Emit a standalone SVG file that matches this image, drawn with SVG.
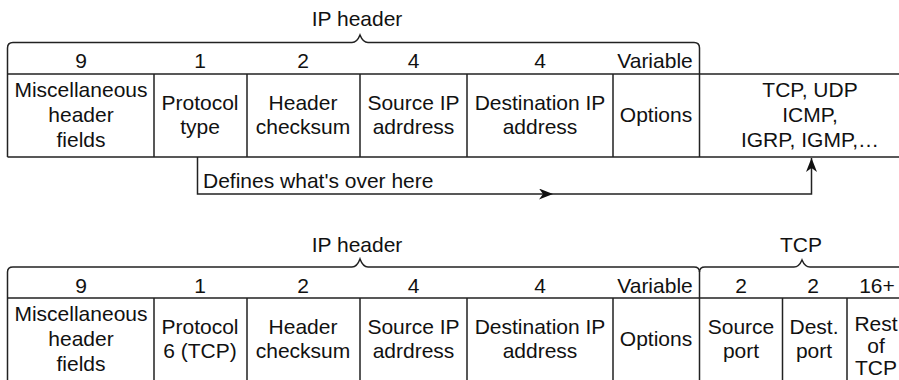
<svg xmlns="http://www.w3.org/2000/svg" width="899" height="380" viewBox="0 0 899 380">
<style>
text{font-family:"Liberation Sans",Arial,Helvetica,sans-serif;font-size:21px;fill:#111;text-anchor:middle}
.ln{fill:none;stroke:#222;stroke-width:1.5}
.l{text-anchor:start}
</style>
<defs>
<marker id="ah" markerUnits="userSpaceOnUse" markerWidth="14" markerHeight="11" viewBox="0 0 14 11" refX="14" refY="5.5" orient="auto">
<path d="M0 0L14 5.5L0 11L4 5.5Z" fill="#111"/>
</marker>
</defs>
<rect width="899" height="380" fill="#fff"/>

<g id="top-diagram">
<g id="top-ip-brace">
<path class="ln" d="M7.5 74V48Q7.5 42.5 13 42.5H352Q357 42.5 360 35Q363 42.5 368 42.5H694Q699.5 42.5 699.5 48V74"/>
<text x="357" y="26">IP header</text>
</g>
<g id="top-grid">
<path class="ln" d="M7.5 74H899M7.5 157H899M7.5 74V157M154 74V157M247 74V157M360 74V157M467 74V157M613 74V157M699.5 74V157"/>
</g>
<g id="top-misc"><text x="81" y="67.5">9</text><text x="81" y="97">Miscellaneous</text><text x="81" y="122">header</text><text x="81" y="147">fields</text></g>
<g id="top-protocol"><text x="200" y="67.5">1</text><text x="200" y="110">Protocol</text><text x="200" y="134">type</text></g>
<g id="top-checksum"><text x="303" y="67.5">2</text><text x="303" y="110">Header</text><text x="303" y="134">checksum</text></g>
<g id="top-src"><text x="413.5" y="67.5">4</text><text x="413.5" y="110">Source IP</text><text x="413.5" y="134">adrdress</text></g>
<g id="top-dst"><text x="540" y="67.5">4</text><text x="540" y="110">Destination IP</text><text x="540" y="134">address</text></g>
<g id="top-options"><text x="655" y="67.5">Variable</text><text x="656" y="122">Options</text></g>
<g id="top-payload"><text x="810" y="97">TCP, UDP</text><text x="810" y="122">ICMP,</text><text x="810" y="147">IGRP, IGMP,…</text></g>
</g>

<g id="connectors">
<path class="ln" d="M197.5 157V194H553" marker-end="url(#ah)"/>
<path class="ln" d="M553 194H811.5V158" marker-end="url(#ah)"/>
<text class="l" x="203" y="188">Defines what's over here</text>
</g>

<g id="bottom-diagram">
<g id="bottom-ip-brace">
<path class="ln" d="M7.5 298V272Q7.5 267 13 267H352Q357 267 360 259Q363 267 368 267H694Q699.5 267 699.5 272"/>
<text x="357" y="252">IP header</text>
</g>
<g id="bottom-tcp-brace">
<path class="ln" d="M699.5 272Q699.5 267 705 267H794Q799 267 802 260Q805 267 810 267H899"/>
<text x="801" y="252">TCP</text>
</g>
<g id="bottom-grid">
<path class="ln" d="M7.5 298H899M7.5 298V380M154 298V380M247 298V380M360 298V380M467 298V380M613 298V380M699.5 272V380M782.5 298V380M847 298V380"/>
</g>
<g id="bot-misc"><text x="81" y="293">9</text><text x="81" y="321">Miscellaneous</text><text x="81" y="346">header</text><text x="81" y="371">fields</text></g>
<g id="bot-protocol"><text x="200" y="293">1</text><text x="200" y="334">Protocol</text><text x="200" y="358">6 (TCP)</text></g>
<g id="bot-checksum"><text x="303" y="293">2</text><text x="303" y="334">Header</text><text x="303" y="358">checksum</text></g>
<g id="bot-src"><text x="413.5" y="293">4</text><text x="413.5" y="334">Source IP</text><text x="413.5" y="358">adrdress</text></g>
<g id="bot-dst"><text x="540" y="293">4</text><text x="540" y="334">Destination IP</text><text x="540" y="358">address</text></g>
<g id="bot-options"><text x="655" y="293">Variable</text><text x="656" y="346">Options</text></g>
<g id="bot-srcport"><text x="741" y="293">2</text><text x="741" y="334">Source</text><text x="741" y="358">port</text></g>
<g id="bot-dstport"><text x="813" y="293">2</text><text x="814" y="334">Dest.</text><text x="814" y="358">port</text></g>
<g id="bot-rest"><text x="877" y="293">16+</text><text x="876" y="331">Rest</text><text x="876" y="353">of</text><text x="876" y="375">TCP</text></g>
</g>
</svg>
